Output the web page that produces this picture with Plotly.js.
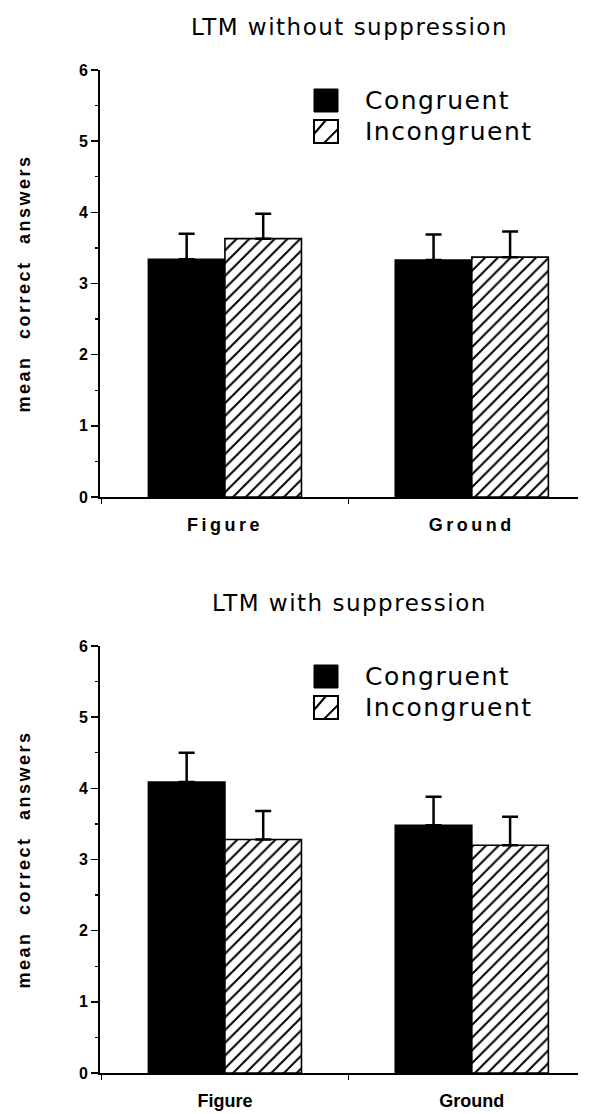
<!DOCTYPE html>
<html>
<head>
<meta charset="utf-8">
<script src="https://cdn.plot.ly/plotly-3.0.1.min.js"></script>
<style>
  html, body { margin: 0; padding: 0; background: #fff; }
  #chart { width: 595px; height: 1114px; }
  .xtick text { letter-spacing: 3.5px; }
  .g-ytitle text, .g-y2title text { letter-spacing: 2.5px; word-spacing: 9px; }
  .annotation-text { letter-spacing: 1.5px; }
</style>
</head>
<body>
<div id="chart"></div>
<script>
// ---- data ----
const categories = ['Figure', 'Ground'];
const seriesNames = ['Congruent', 'Incongruent'];
const panelTitles = ['LTM without suppression', 'LTM with suppression'];
const yTitle = 'mean correct answers';
const yTickVals = [0, 1, 2, 3, 4, 5, 6];

const withoutCongruent = [3.34, 3.33];
const withoutCongruentErr = [0.36, 0.36];
const withoutIncongruent = [3.63, 3.37];
const withoutIncongruentErr = [0.35, 0.36];

const withCongruent = [4.09, 3.48];
const withCongruentErr = [0.41, 0.40];
const withIncongruent = [3.28, 3.20];
const withIncongruentErr = [0.40, 0.40];

// ---- styling helpers ----
function barTrace(name, y, err, hatched, xa, ya) {
  return {
    type: 'bar', name: name, x: categories, y: y, xaxis: xa, yaxis: ya,
    showlegend: false,
    marker: {
      color: hatched ? 'white' : 'black',
      line: { color: 'black', width: 1.6 },
      pattern: hatched ? { shape: '/', fgcolor: 'black', bgcolor: 'white', size: 9, solidity: 0.22 } : { shape: '' }
    },
    error_y: {
      type: 'data', symmetric: false, array: err, arrayminus: err.map(() => 0),
      color: 'black', thickness: 2.5, width: 8
    }
  };
}

const traces = [
  barTrace(seriesNames[0], withoutCongruent, withoutCongruentErr, false, 'x', 'y'),
  barTrace(seriesNames[1], withoutIncongruent, withoutIncongruentErr, true, 'x', 'y'),
  barTrace(seriesNames[0], withCongruent, withCongruentErr, false, 'x2', 'y2'),
  barTrace(seriesNames[1], withIncongruent, withIncongruentErr, true, 'x2', 'y2')
];

const H = 1114, W = 595, L = 100, R = 17;
const pw = W - L - R;
function py(pix) { return 1 - pix / H; }     // page pixel -> paper y
function px(pix) { return (pix - L) / pw; }  // page pixel -> paper x

const tickFont = { family: 'Liberation Sans, Arial, sans-serif', size: 16, color: 'black', weight: 'bold' };
const xTickFont = { family: 'Liberation Sans, Arial, sans-serif', size: 18, color: 'black', weight: 'bold' };
const textFont = { family: 'DejaVu Sans, Verdana, sans-serif', size: 23, color: 'black' };
const legFont = { family: 'DejaVu Sans, Verdana, sans-serif', size: 25, color: 'black' };

function xAxis(anchor) {
  return {
    anchor: anchor, type: 'category', range: [-0.506, 1.43],
    showline: true, linecolor: 'black', linewidth: 2,
    ticks: 'outside', tickson: 'boundaries', ticklen: 5, tickwidth: 1.5, tickcolor: 'black',
    tickfont: xTickFont, ticklabelstandoff: 10,
    showgrid: false, zeroline: false, fixedrange: true
  };
}
function yAxis(anchor, domain) {
  return {
    anchor: anchor, domain: domain, range: [0, 6],
    tickvals: yTickVals, ticks: 'outside', ticklen: 7, tickwidth: 1.5, tickcolor: 'black',
    minor: { dtick: 0.5, tick0: 0, ticks: 'outside', ticklen: 3, tickwidth: 1.2, tickcolor: 'black' },
    showline: true, linecolor: 'black', linewidth: 2,
    tickfont: tickFont, showgrid: false, zeroline: false, fixedrange: true,
    title: { text: yTitle, font: { family: 'Liberation Sans, Arial, sans-serif', size: 18, color: 'black', weight: 'bold' }, standoff: 44 }
  };
}

// panel geometry in page pixels: [top of axis (6), bottom of axis (0)]
const panels = [[70, 497], [646, 1073]];

const shapes = [];
const annotations = [];
panels.forEach((p, i) => {
  const off = p[0] - 70;
  annotations.push({
    text: panelTitles[i], xref: 'paper', yref: 'paper', x: px(349), y: py(27 + off),
    xanchor: 'center', yanchor: 'middle', showarrow: false, font: textFont
  });
  // legend boxes
  const sx0 = 314, sx1 = 338;
  const r1 = [89 + off, 112 + off], r2 = [120 + off, 143 + off];
  shapes.push({ type: 'rect', xref: 'paper', yref: 'paper', x0: px(sx0), x1: px(sx1), y0: py(r1[1]), y1: py(r1[0]),
    fillcolor: 'black', line: { color: 'black', width: 1 } });
  shapes.push({ type: 'rect', xref: 'paper', yref: 'paper', x0: px(sx0), x1: px(sx1), y0: py(r2[1]), y1: py(r2[0]),
    fillcolor: 'white', line: { color: 'black', width: 2 } });
  shapes.push({ type: 'line', xref: 'paper', yref: 'paper', x0: px(sx0), y0: py(r2[1] - 9), x1: px(sx1 - 12), y1: py(r2[0]),
    line: { color: 'black', width: 2 } });
  shapes.push({ type: 'line', xref: 'paper', yref: 'paper', x0: px(sx0 + 10), y0: py(r2[1]), x1: px(sx1), y1: py(r2[0] + 9),
    line: { color: 'black', width: 2 } });
  annotations.push({ text: seriesNames[0], xref: 'paper', yref: 'paper', x: px(363), y: py((r1[0] + r1[1]) / 2),
    xanchor: 'left', yanchor: 'middle', showarrow: false, font: legFont });
  annotations.push({ text: seriesNames[1], xref: 'paper', yref: 'paper', x: px(363), y: py((r2[0] + r2[1]) / 2),
    xanchor: 'left', yanchor: 'middle', showarrow: false, font: legFont });
});

const layout = {
  width: W, height: H, autosize: false,
  margin: { l: L, r: R, t: 0, b: 0 },
  paper_bgcolor: 'white', plot_bgcolor: 'white',
  barmode: 'group', bargap: 0.38, bargroupgap: 0,
  showlegend: false,
  xaxis: xAxis('y'),
  yaxis: yAxis('x', [py(panels[0][1]), py(panels[0][0])]),
  xaxis2: xAxis('y2'),
  yaxis2: yAxis('x2', [py(panels[1][1]), py(panels[1][0])]),
  shapes: shapes,
  annotations: annotations,
  font: { family: 'Liberation Sans, Arial, sans-serif', color: 'black' }
};

Plotly.newPlot('chart', traces, layout, { displayModeBar: false, staticPlot: true });
</script>
</body>
</html>
